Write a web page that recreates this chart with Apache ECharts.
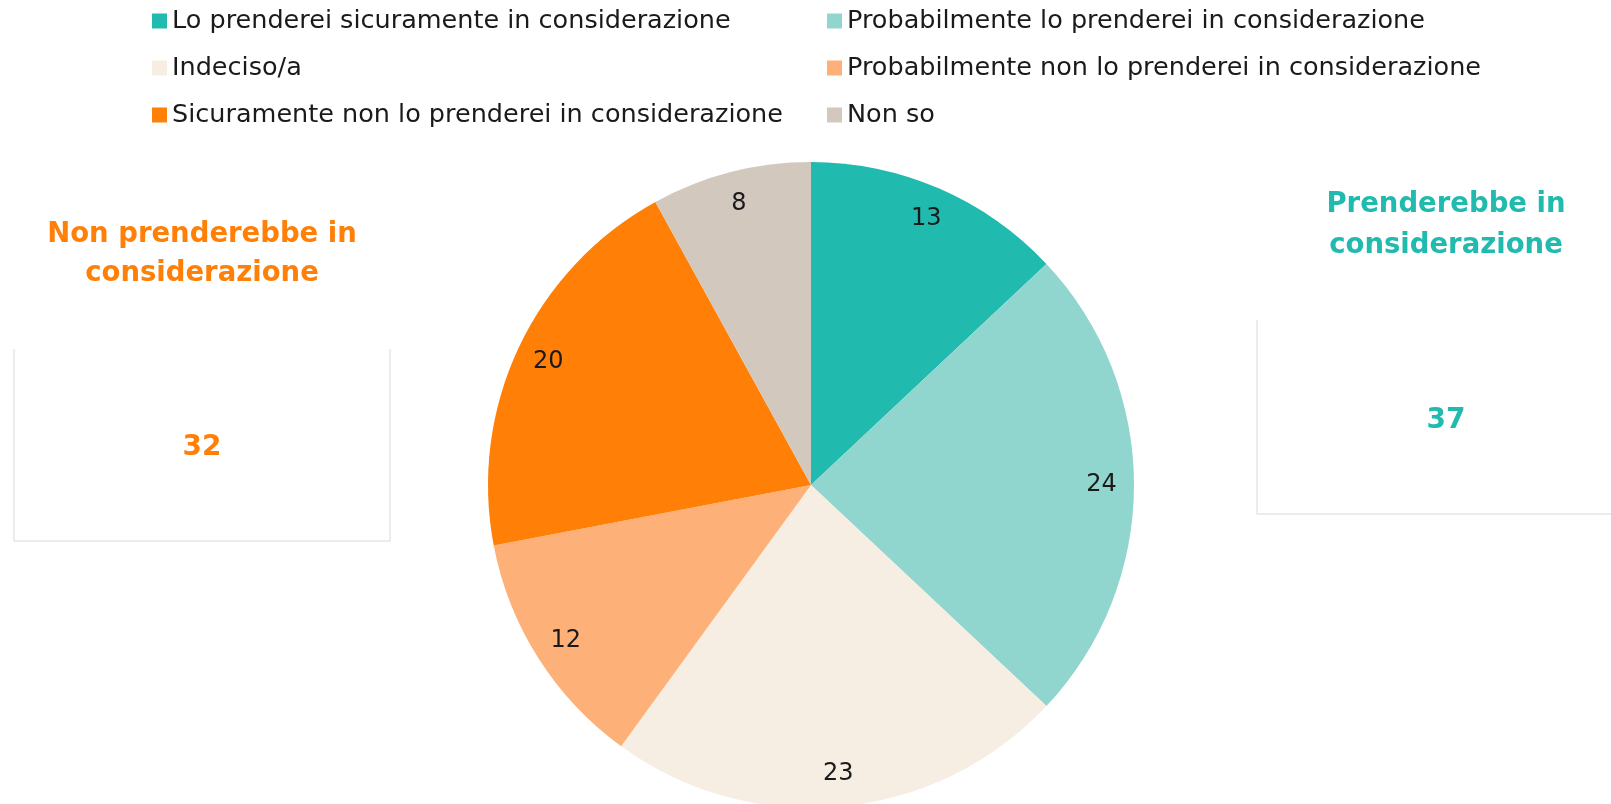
<!DOCTYPE html>
<html>
<head>
<meta charset="utf-8">
<script src="https://cdn.jsdelivr.net/npm/echarts@6/dist/echarts.min.js"></script>
<style>
  html, body { margin: 0; padding: 0; background: #fff; }
  #chart { width: 1611px; height: 804px; }
</style>
</head>
<body>
<div id="chart"></div>
<script>
// categorie e valori (%)
const categories = [
  'Lo prenderei sicuramente in considerazione',
  'Probabilmente lo prenderei in considerazione',
  'Indeciso/a',
  'Probabilmente non lo prenderei in considerazione',
  'Sicuramente non lo prenderei in considerazione',
  'Non so'
];
const values = [13, 24, 23, 12, 20, 8];
const colors = ['#21BAAF', '#91D6CE', '#F6EDE3', '#FDB077', '#FF7F07', '#D3C8BE'];

// riquadri laterali: quali categorie sommano
const groupYes = [0, 1]; // Prenderebbe in considerazione
const groupNo = [3, 4];  // Non prenderebbe in considerazione
const sumOf = idx => idx.reduce((s, i) => s + values[i], 0);

const FONT = '"DejaVu Sans", sans-serif';
const pieCenter = [811, 485];
const pieR = 323;

const pieData = categories.map((name, i) => ({ name: name, value: values[i] }));

const legendText = { fontFamily: FONT, fontSize: 25.5, color: '#1a1a1a', lineHeight: 30 };

const myChart = echarts.init(document.getElementById('chart'));
const option = {
  animation: false,
  color: colors,
  legend: [
    {
      orient: 'vertical',
      left: 147,
      top: 1,
      itemWidth: 15,
      itemHeight: 15,
      itemGap: 17,
      icon: 'rect',
      data: [categories[0], categories[2], categories[4]],
      textStyle: legendText
    },
    {
      orient: 'vertical',
      left: 822,
      top: 1,
      itemWidth: 15,
      itemHeight: 15,
      itemGap: 17,
      icon: 'rect',
      data: [categories[1], categories[3], categories[5]],
      textStyle: legendText
    }
  ],
  series: [
    {
      type: 'pie',
      center: pieCenter,
      radius: [0, pieR],
      startAngle: 90,
      clockwise: true,
      label: { show: false },
      labelLine: { show: false },
      emphasis: { disabled: true },
      data: pieData
    },
    {
      // anello trasparente solo per mettere le etichette vicino al bordo
      type: 'pie',
      silent: true,
      center: pieCenter,
      radius: [pieR * 0.78, pieR],
      startAngle: 90,
      clockwise: true,
      itemStyle: { color: 'transparent' },
      label: {
        show: true,
        position: 'inside',
        formatter: '{c}',
        fontFamily: FONT,
        fontSize: 24,
        color: '#1a1a1a'
      },
      labelLine: { show: false },
      emphasis: { disabled: true },
      data: pieData
    }
  ],
  graphic: [
    // riquadro sinistro
    {
      type: 'polyline',
      shape: { points: [[14, 349], [14, 541], [390, 541], [390, 349]] },
      style: { stroke: '#E6E6E6', lineWidth: 1.5, fill: null }
    },
    {
      type: 'text',
      x: 202, y: 254,
      style: {
        text: 'Non prenderebbe in\nconsiderazione',
        align: 'center', verticalAlign: 'middle',
        font: 'bold 27.5px ' + FONT, lineHeight: 39, fill: '#FF7F07'
      }
    },
    {
      type: 'text',
      x: 202, y: 448,
      style: {
        text: String(sumOf(groupNo)),
        align: 'center', verticalAlign: 'middle',
        font: 'bold 28px ' + FONT, fill: '#FF7F07'
      }
    },
    // riquadro destro
    {
      type: 'polyline',
      shape: { points: [[1257, 320], [1257, 514], [1611, 514]] },
      style: { stroke: '#E6E6E6', lineWidth: 1.5, fill: null }
    },
    {
      type: 'text',
      x: 1446, y: 225,
      style: {
        text: 'Prenderebbe in\nconsiderazione',
        align: 'center', verticalAlign: 'middle',
        font: 'bold 27.5px ' + FONT, lineHeight: 41, fill: '#21BAAF'
      }
    },
    {
      type: 'text',
      x: 1446, y: 421,
      style: {
        text: String(sumOf(groupYes)),
        align: 'center', verticalAlign: 'middle',
        font: 'bold 28px ' + FONT, fill: '#21BAAF'
      }
    }
  ]
};
myChart.setOption(option);
</script>
</body>
</html>
